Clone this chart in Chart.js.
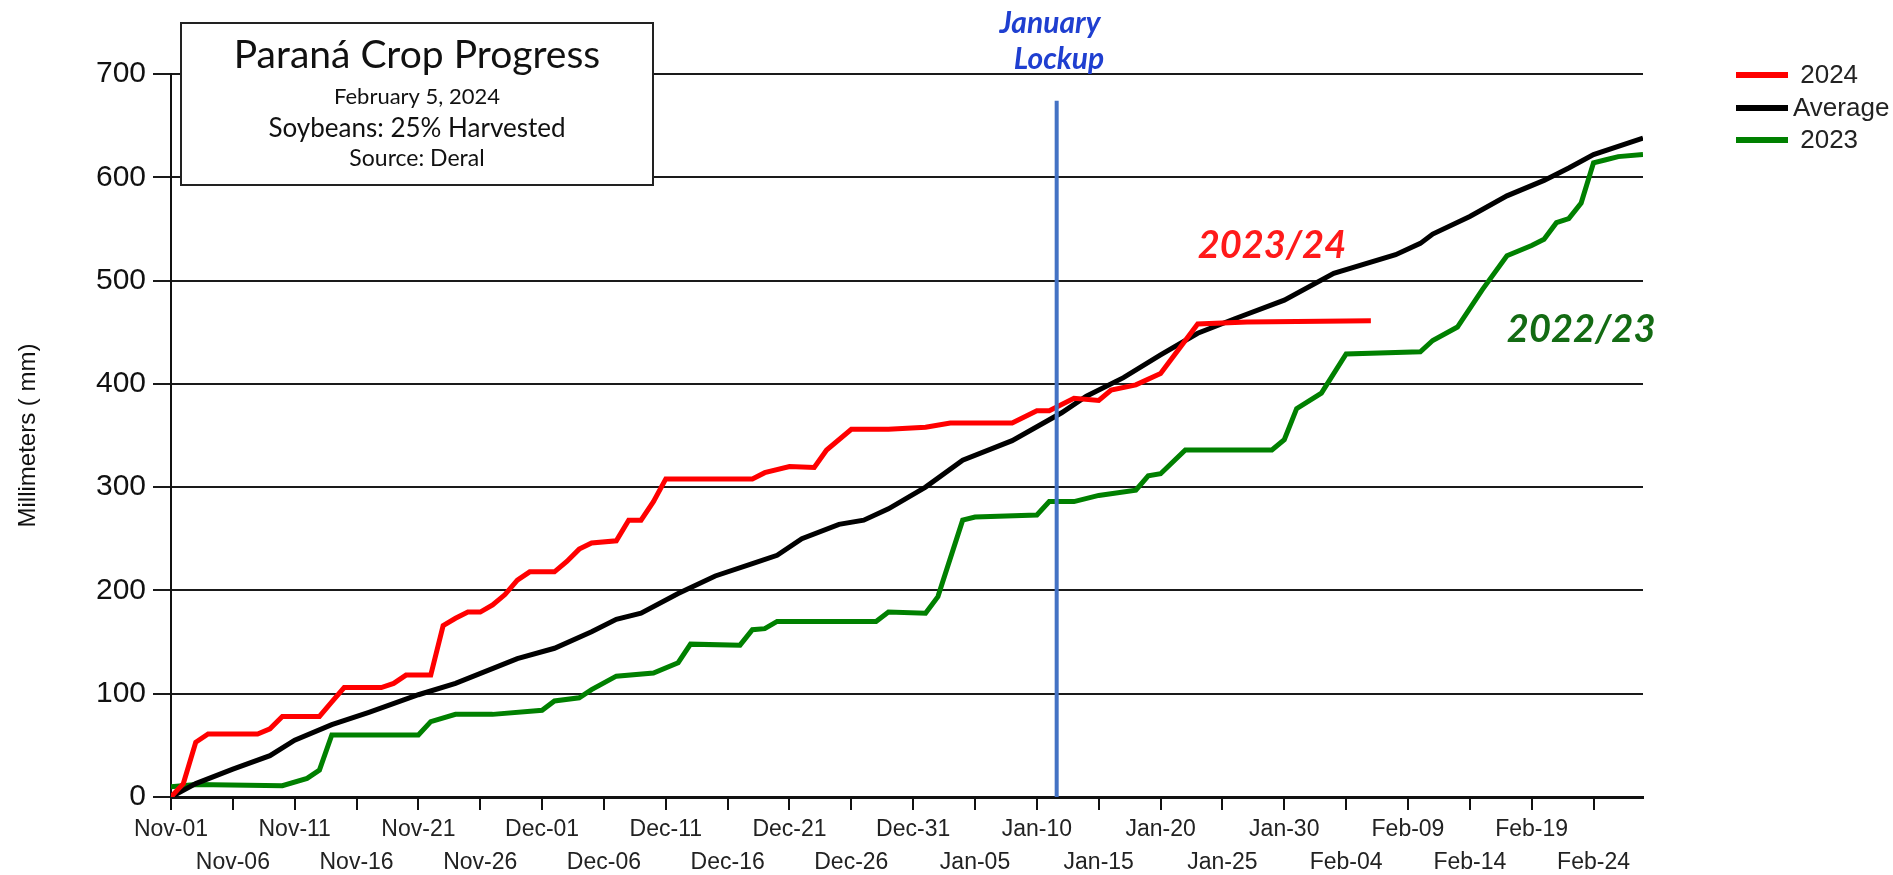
<!DOCTYPE html>
<html>
<head>
<meta charset="utf-8">
<script src="https://cdn.jsdelivr.net/npm/chart.js@4.4.1/dist/chart.umd.min.js"></script>
<style>
  html, body { margin: 0; padding: 0; background: #fff; }
  #wrap { width: 1893px; height: 875px; }
</style>
</head>
<body>
<div id="wrap"><canvas id="chart" width="1893" height="875"></canvas></div>
<script>
// x axis: days since Nov-01, one tick every 5 days
const tickLabels = ['Nov-01', 'Nov-06', 'Nov-11', 'Nov-16', 'Nov-21', 'Nov-26', 'Dec-01', 'Dec-06',
  'Dec-11', 'Dec-16', 'Dec-21', 'Dec-26', 'Dec-31', 'Jan-05', 'Jan-10', 'Jan-15', 'Jan-20',
  'Jan-25', 'Jan-30', 'Feb-04', 'Feb-09', 'Feb-14', 'Feb-19', 'Feb-24'];

// 2023/24 season
const days2024 = [0, 1, 2, 3, 7, 8, 9, 12, 13, 14, 17, 18, 19, 21, 22, 23, 24, 25, 26, 27, 28, 29, 31, 32,
  33, 34, 36, 37, 38, 39, 40, 47, 48, 50, 52, 53, 55, 58, 61, 63, 68, 70, 71, 73, 75, 76, 78, 80, 83, 87, 97];
const mm2024 = [0, 13, 53, 61, 61, 66, 78, 78, 92, 106, 106, 110, 118, 118, 166, 173, 179, 179, 186, 196, 210, 218, 218, 228,
  240, 246, 248, 268, 268, 286, 308, 308, 314, 320, 319, 336, 356, 356, 358, 362, 362, 374, 374, 386, 384, 394, 399, 410, 458, 460, 461];

// average
const daysAvg = [0, 2, 5, 8, 10, 13, 16, 20, 23, 28, 31, 34, 36, 38, 41, 44, 47, 49, 51, 54, 56, 58, 61, 64, 68,
  72, 74, 77, 80, 83, 86, 90, 94, 99, 101, 102, 105, 108, 111, 113, 115, 119];
const mmAvg = [0, 13, 27, 40, 55, 70, 82, 99, 110, 134, 144, 160, 172, 178, 197, 214, 226, 234, 250, 264, 268, 279, 300, 326, 345,
  372, 388, 406, 428, 449, 463, 481, 507, 525, 536, 545, 562, 582, 597, 609, 622, 638];

// 2022/23 season
const days2023 = [0, 2, 9, 11, 12, 13, 20, 21, 23, 26, 30, 31, 33, 34, 36, 39, 41, 42, 46, 47, 48, 49, 57, 58,
  61, 62, 64, 65, 70, 71, 73, 75, 78, 79, 80, 82, 89, 90, 91, 93, 95, 101, 102, 104, 106, 108, 110, 111, 112,
  113, 114, 115, 116, 117, 119];
const mm2023 = [10, 12, 11, 18, 26, 60, 60, 73, 80, 80, 84, 93, 96, 104, 117, 120, 130, 148, 147, 162, 163, 170, 170, 179,
  178, 194, 268, 271, 273, 286, 286, 292, 297, 311, 313, 336, 336, 346, 376, 391, 429, 431, 442, 455, 491, 524, 534, 540, 556,
  560, 575, 614, 617, 620, 622];

// January lockup marker
const lockupDay = 71.6;
const lockupTop = 674;

const pts = (xs, ys) => xs.map((x, i) => ({ x: x, y: ys[i] }));

const overlay = {
  id: 'overlay',
  afterDraw(chart) {
    const ctx = chart.ctx;
    const xs = chart.scales.x, ys = chart.scales.y;
    ctx.save();

    // title box
    ctx.fillStyle = '#fff';
    ctx.fillRect(181, 23, 472, 162);
    ctx.strokeStyle = '#222';
    ctx.lineWidth = 2;
    ctx.strokeRect(181, 23, 472, 162);
    ctx.fillStyle = '#111';
    ctx.textAlign = 'center';
    ctx.textBaseline = 'middle';
    ctx.font = '39px Lato';
    ctx.fillText('Paraná Crop Progress', 417, 55);
    ctx.font = '22px Lato';
    ctx.fillText('February 5, 2024', 417, 97);
    ctx.font = '26px Lato';
    ctx.fillText('Soybeans: 25% Harvested', 417, 129);
    ctx.font = '23px Lato';
    ctx.fillText('Source: Deral', 417, 159);

    // lockup label
    ctx.fillStyle = '#1f3fd0';
    ctx.font = 'italic bold 30px Lato';
    ctx.fillText('January', 1050, 23);
    ctx.fillText('Lockup', 1059, 59);

    // season labels
    ctx.font = 'italic bold 38px Lato';
    ctx.fillStyle = '#ff1a1a';
    ctx.fillText('2023/24', xs.getPixelForValue(89), ys.getPixelForValue(534));
    ctx.fillStyle = '#136b13';
    ctx.fillText('2022/23', xs.getPixelForValue(114), ys.getPixelForValue(452));

    // legend
    ctx.textAlign = 'left';
    ctx.font = '26px "Liberation Sans"';
    const rows = [75, 108, 140];
    chart.data.datasets.slice(1, 4).forEach((ds, i) => {
      ctx.strokeStyle = ds.borderColor;
      ctx.lineWidth = 6;
      ctx.beginPath();
      ctx.moveTo(1736, rows[i]);
      ctx.lineTo(1788, rows[i]);
      ctx.stroke();
      ctx.fillStyle = '#222';
      ctx.fillText(ds.label, 1793, rows[i] + 1);
    });
    ctx.restore();
  }
};

new Chart(document.getElementById('chart'), {
  type: 'line',
  data: {
    datasets: [
      { label: 'lockup', data: [{ x: lockupDay, y: 0 }, { x: lockupDay, y: lockupTop }],
        borderColor: '#4472c4', borderWidth: 4, pointRadius: 0, order: 0 },
      { label: ' 2024', data: pts(days2024, mm2024), borderColor: '#ff0000', borderWidth: 5, pointRadius: 0, order: 1 },
      { label: 'Average', data: pts(daysAvg, mmAvg), borderColor: '#000000', borderWidth: 5, pointRadius: 0, order: 2 },
      { label: ' 2023', data: pts(days2023, mm2023), borderColor: '#008000', borderWidth: 5, pointRadius: 0, order: 3 }
    ]
  },
  options: {
    responsive: false,
    animation: false,
    layout: { padding: { left: 0, right: 250, top: 74, bottom: 0 } },
    plugins: { legend: { display: false }, tooltip: { enabled: false } },
    scales: {
      x: {
        type: 'linear', min: 0, max: 119,
        afterFit: s => { s.height = 78; },
        ticks: {
          stepSize: 5, includeBounds: false, autoSkip: false, maxRotation: 0, padding: 4,
          color: '#222', font: { family: 'Liberation Sans', size: 23, lineHeight: 1.4 },
          callback: v => {
            const i = Math.round(v / 5);
            return i % 2 ? ['', tickLabels[i]] : tickLabels[i];
          }
        },
        grid: { drawOnChartArea: false, drawTicks: true, tickLength: 13, color: '#111', lineWidth: 2 },
        border: { color: '#111', width: 3 }
      },
      y: {
        min: 0, max: 700,
        afterFit: s => { s.width = 171; },
        ticks: { stepSize: 100, padding: 7, color: '#111',
          font: { family: 'Liberation Sans', size: 30 } },
        grid: { color: '#1a1a1a', lineWidth: 2, tickLength: 18 },
        border: { color: '#111', width: 2 },
        title: { display: true, text: 'Millimeters ( mm)', color: '#111',
          font: { family: 'Liberation Sans', size: 24 }, padding: { top: 14, bottom: 0 } }
      }
    }
  },
  plugins: [overlay]
});
</script>
</body>
</html>
